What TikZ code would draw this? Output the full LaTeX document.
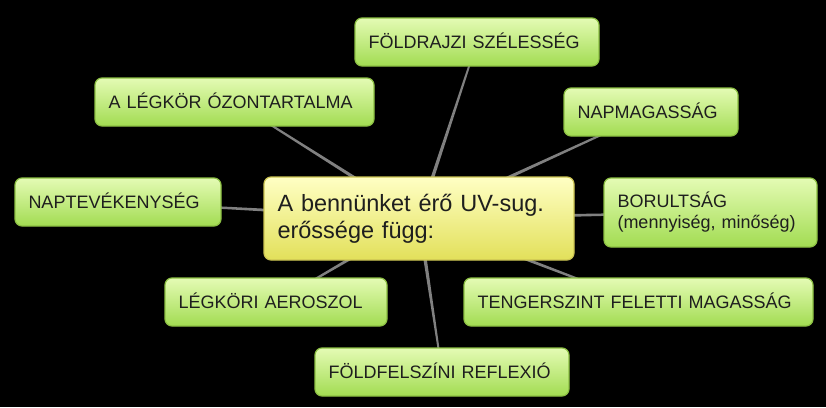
\documentclass[tikz,border=0pt]{standalone}
\usepackage{fontspec}
\setmainfont{Liberation Sans}
\usetikzlibrary{calc,backgrounds}

\definecolor{leafdraw}{HTML}{8CC043}
\definecolor{leaftop}{HTML}{E4FBB4}
\definecolor{leafmid}{HTML}{C6F07E}
\definecolor{leafbot}{HTML}{A2DC52}
\definecolor{hubdraw}{HTML}{CCC452}
\definecolor{hubtop}{HTML}{FFFFC4}
\definecolor{hubmid}{HTML}{FAFA8A}
\definecolor{hubbot}{HTML}{E2E05A}
\definecolor{linkgray}{HTML}{808080}
\definecolor{textgray}{HTML}{1E1E1E}

\begin{document}
\begin{tikzpicture}[x=1pt, y=-1pt,
    box/.style={rectangle, rounded corners=7pt, draw=leafdraw, line width=1.2pt,
        top color=leaftop, middle color=leafmid, bottom color=leafbot,
        text=textgray, font=\fontsize{18}{21}\selectfont, align=left,
        inner xsep=13.5pt, inner ysep=0pt, minimum height=48pt},
    leaf/.style={box, text height=12.9pt, text depth=0pt},
    hub/.style={box, draw=hubdraw, top color=hubtop, middle color=hubmid,
        bottom color=hubbot, font=\fontsize{23.5}{27}\selectfont},
    link/.style={fill=linkgray}
]
    \useasboundingbox (0,0) rectangle (826,407);

    % Centre
    \node[hub, text width=283pt, minimum height=83pt] (uv) at (419,218.5)
        {A bennünket érő UV-sug.\\erőssége függ:};

    % Factors
    \node[leaf, text width=217pt] (fold) at (477,42) {FÖLDRAJZI SZÉLESSÉG};
    \node[leaf, text width=252pt] (ozon) at (234.5,102) {A LÉGKÖR ÓZONTARTALMA};
    \node[leaf, text width=147pt] (napm) at (651,112) {NAPMAGASSÁG};
    \node[box, text width=186pt, minimum height=69pt] (borult) at (710.5,212.5)
        {BORULTSÁG\\(mennyiség, minőség)};
    \node[leaf, text width=179pt] (naptev) at (118,202) {NAPTEVÉKENYSÉG};
    \node[leaf, text width=195pt] (aero) at (276,302) {LÉGKÖRI AEROSZOL};
    \node[leaf, text width=322pt] (tenger) at (638.5,302) {TENGERSZINT FELETTI MAGASSÁG};
    \node[leaf, text width=227pt] (reflex) at (442,372) {FÖLDFELSZÍNI REFLEXIÓ};

    % Connections
    \begin{scope}[on background layer]
        \fill[black] (0,0) rectangle (826,407);
        \foreach \n in {fold,ozon,napm,borult,naptev,aero,tenger,reflex}
            \fill[link] ($(uv.center)!2pt!90:(\n.center)$)
                -- ($(\n.center)!0.8pt!-90:(uv.center)$)
                -- ($(\n.center)!0.8pt!90:(uv.center)$)
                -- ($(uv.center)!2pt!-90:(\n.center)$) -- cycle;
    \end{scope}
\end{tikzpicture}
\end{document}
